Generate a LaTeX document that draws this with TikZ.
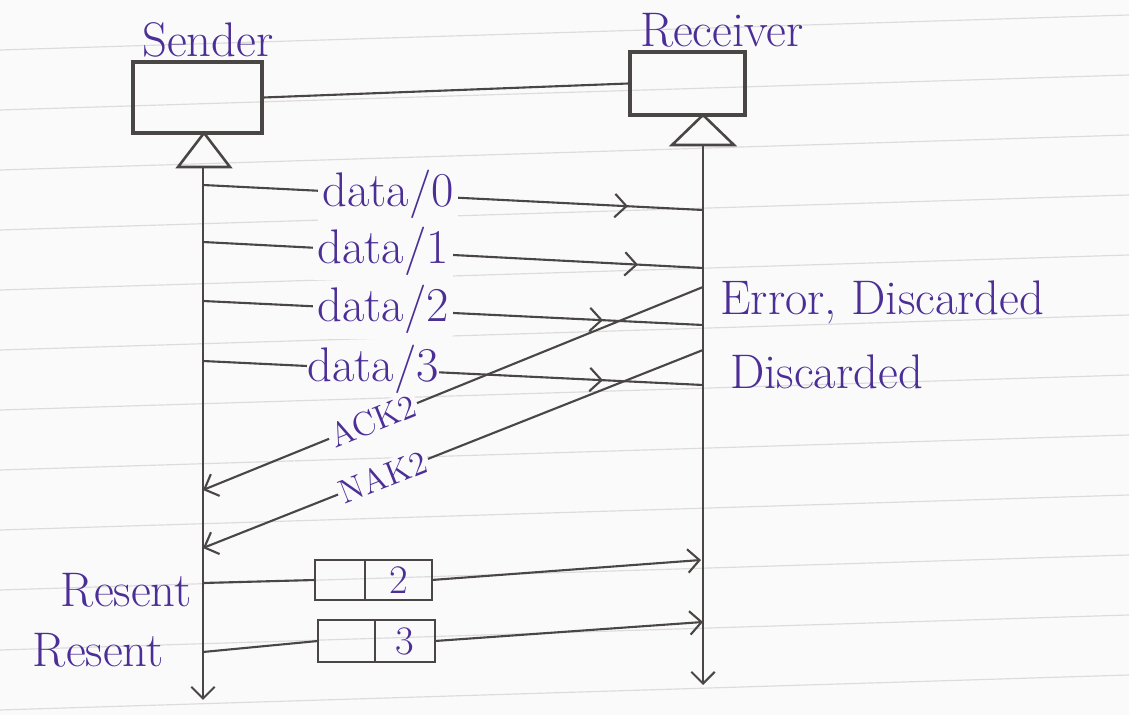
\documentclass[tikz,border=0pt]{standalone}
\usetikzlibrary{arrows.meta,positioning,decorations.markings}
\definecolor{ink}{HTML}{4B2E96}
\definecolor{pencil}{HTML}{4A4646}
\definecolor{paper}{HTML}{FAFAFA}
\definecolor{ruling}{HTML}{DCDCDC}
\tikzset{
  wire/.style={pencil,line width=0.9pt},
  tip/.style={-{Straight Barb[length=5pt,width=10pt]}},
  midtip/.style={postaction={decorate},
    decoration={markings,mark=at position #1 with {\arrow{Straight Barb[length=5pt,width=10pt]}}}},
  lbl/.style={ink,font=\huge},
  msglbl/.style={lbl,fill=paper,inner sep=2pt},
  acklbl/.style={ink,font=\Large,fill=paper,inner sep=1pt,sloped},
  entity/.style={draw=pencil,line width=1.3pt,inner sep=0pt},
  cell/.style={draw=pencil,line width=1pt,inner sep=0pt,outer sep=0pt,minimum height=0.6cm,text=ink,font=\LARGE},
}

\begin{document}
\begin{tikzpicture}[x=0.015cm,y=-0.015cm]
  % Paper and ruled lines
  \fill[paper] (0,0) rectangle (1129,715);
  \useasboundingbox (0,0) rectangle (1129,715);
  \foreach \y in {50,110,170,230,290,350,410,470,530,590,650,710}
    \draw[ruling,line width=0.5pt] (0,\y) -- (1129,\y-35);

  % Sender and receiver
  \node[entity,minimum width=1.935cm,minimum height=1.065cm] (snd) at (197.5,97.5) {};
  \node[entity,minimum width=1.725cm,minimum height=0.945cm] (rcv) at (687.5,83.5) {};
  \node[lbl] (sndname) at (208,40) {Sender};
  \node[lbl] (rcvname) at (722,30) {Receiver};
  \draw[wire] (snd.east) -- (rcv.west);

  \draw[wire,line width=1.1pt] (204,133) -- (178,167) -- (230,167) -- cycle;
  \draw[wire,line width=1.1pt] (703,115) -- (672,145) -- (734,145) -- cycle;

  % Lifelines
  \coordinate (sTop) at (203,167);
  \coordinate (sEnd) at (203,700);
  \coordinate (rTop) at (703,145);
  \coordinate (rEnd) at (703,685);
  \draw[wire,tip] (sTop) -- (sEnd);
  \draw[wire,tip] (rTop) -- (rEnd);

  % Data frames
  \coordinate (s0) at (203,185); \coordinate (r0) at (703,210);
  \coordinate (s1) at (203,242); \coordinate (r1) at (703,268);
  \coordinate (s2) at (203,301); \coordinate (r2) at (703,325);
  \coordinate (s3) at (203,361); \coordinate (r3) at (703,385);
  \draw[wire,midtip=0.85] (s0) -- node[msglbl,pos=0.37] (d0) {data/0} (r0);
  \draw[wire,midtip=0.87] (s1) -- node[msglbl,pos=0.36] (d1) {data/1} (r1);
  \draw[wire,midtip=0.80] (s2) -- node[msglbl,pos=0.36] (d2) {data/2} (r2);
  \draw[wire,midtip=0.80] (s3) -- node[msglbl,pos=0.34,inner sep=0pt] (d3) {data/3} (r3);

  \node[lbl,anchor=west] (err) at (712,302) {Error, Discarded};
  \node[lbl,anchor=west] (disc) at (722,372) {Discarded};

  % ACK and NAK
  \coordinate (rA) at (703,287); \coordinate (sA) at (203,490);
  \coordinate (rN) at (703,350); \coordinate (sN) at (203,548);
  \draw[wire,tip] (rA) -- node[acklbl,pos=0.66] (ack) {ACK2} (sA);
  \draw[wire,tip] (rN) -- node[acklbl,pos=0.64] (nak) {NAK2} (sN);

  % Resent frames
  \node[cell,minimum width=0.75cm] (p2a) at (340,580) {};
  \node[cell,minimum width=1.0cm,right=0pt of p2a] (p2b) {2};
  \node[cell,minimum width=0.855cm,minimum height=0.63cm] (p3a) at (346.5,641) {};
  \node[cell,minimum width=0.9cm,minimum height=0.63cm,right=0pt of p3a] (p3b) {3};
  \coordinate (sR2) at (203,583); \coordinate (rR2) at (701,560);
  \coordinate (sR3) at (203,652); \coordinate (rR3) at (703,622);
  \draw[wire] (sR2) -- (p2a.west);
  \draw[wire,tip] (p2b.east) -- (rR2);
  \draw[wire] (sR3) -- (p3a.west);
  \draw[wire,tip] (p3b.east) -- (rR3);
  \node[lbl,anchor=east] (rs2) at (200,590) {Resent};
  \node[lbl,anchor=east] (rs3) at (172,650) {Resent};
\end{tikzpicture}
\end{document}
